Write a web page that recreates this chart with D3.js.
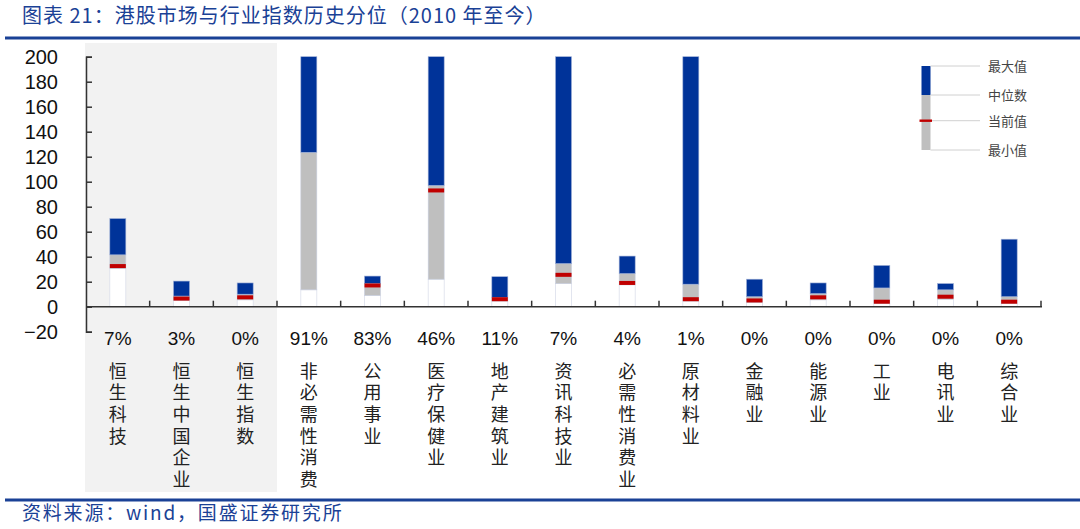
<!DOCTYPE html>
<html>
<head>
<meta charset="utf-8">
<script src="https://cdn.jsdelivr.net/npm/d3@7"></script>
<style>
  html, body { margin: 0; padding: 0; background: #ffffff; }
  svg { display: block; }
  .vlabel { writing-mode: vertical-rl; text-orientation: upright; }
</style>
</head>
<body>
<svg id="chart" width="1080" height="529"></svg>
<script>
// ---------------- data ----------------
const categories = ["恒生科技", "恒生中国企业", "恒生指数", "非必需性消费", "公用事业", "医疗保健业", "地产建筑业",
  "资讯科技业", "必需性消费业", "原材料业", "金融业", "能源业", "工业", "电讯业", "综合业"];
const minValues     = [30.5, 5.0, 5.5, 13.5, 9.0, 22.0, 4.5, 18.5, 17.5, 4.5, 3.5, 5.5, 2.5, 6.0, 2.5];
const medianValues  = [41.5, 8.5, 10.0, 123.5, 18.5, 97.0, 7.5, 34.5, 26.5, 18.0, 8.0, 10.5, 15.0, 13.5, 8.0];
const maxValues     = [70.5, 20.5, 19.0, 200, 24.5, 200, 24.0, 200, 40.5, 200, 22.0, 19.0, 33.0, 18.5, 54.0];
const currentValues = [32.5, 6.5, 7.5, null, 17.0, 93.0, 6.0, 25.5, 19.0, 6.0, 5.0, 7.5, 4.0, 8.0, 4.0];
const percentiles   = ["7%", "3%", "0%", "91%", "83%", "46%", "11%", "7%", "4%", "1%", "0%", "0%", "0%", "0%", "0%"];
const yTicks = [-20, 0, 20, 40, 60, 80, 100, 120, 140, 160, 180, 200];
const highlighted = ["恒生科技", "恒生中国企业", "恒生指数"];
const legendItems = ["最大值", "中位数", "当前值", "最小值"];
const titleText = "图表 21：港股市场与行业指数历史分位（2010 年至今）";
const sourceText = "资料来源：wind，国盛证券研究所";

// ---------------- layout ----------------
const svg = d3.select("#chart");
const W = 1080;
const plotLeft = 86, plotRight = 1041;
const blue = "#003399", gray = "#bfbfbf", red = "#c00000", titleBlue = "#1a4196";
const numFont = "'Liberation Sans', Arial, sans-serif";
const cjkFont = "'Noto Sans CJK SC', 'Noto Sans', sans-serif";

const x = d3.scaleBand().domain(categories).range([plotLeft, plotRight]).padding(0);
const y = d3.scaleLinear().domain([-20, 200]).range([331.7, 56.7]);
const bw = 16;

// title
svg.append("text").attr("x", 22).attr("y", 23)
  .attr("font-family", cjkFont).attr("font-size", 20).attr("letter-spacing", 1.0).attr("fill", titleBlue)
  .text(titleText);
svg.append("rect").attr("x", 5).attr("y", 36.5).attr("width", W - 5).attr("height", 3).attr("fill", titleBlue);

// highlight background
const hx0 = x(highlighted[0]) - 1;
const hx1 = x(highlighted[highlighted.length - 1]) + x.bandwidth();
svg.append("rect").attr("x", hx0).attr("y", 43).attr("width", hx1 - hx0).attr("height", 449)
  .attr("fill", "#f2f2f2");

// bars
const data = categories.map((c, i) => ({
  c, min: minValues[i], med: medianValues[i], max: maxValues[i], cur: currentValues[i]
}));
const g = svg.append("g");
const cx = d => x(d.c) + x.bandwidth() / 2 - bw / 2;

// invisible base (0 -> min)
g.selectAll(".base").data(data).join("rect")
  .attr("x", cx).attr("width", bw)
  .attr("y", d => y(d.min)).attr("height", d => y(0) - y(d.min))
  .attr("fill", "#ffffff").attr("stroke", "#d6dbe8").attr("stroke-width", 0.7);
// min -> median
g.selectAll(".low").data(data).join("rect")
  .attr("x", cx).attr("width", bw)
  .attr("y", d => y(d.med)).attr("height", d => y(d.min) - y(d.med))
  .attr("fill", gray).attr("stroke", "#c9cfe0").attr("stroke-width", 0.6);
// median -> max
g.selectAll(".high").data(data).join("rect")
  .attr("x", cx).attr("width", bw)
  .attr("y", d => y(d.max)).attr("height", d => y(d.med) - y(d.max))
  .attr("fill", blue).attr("stroke", "#9fb0d6").attr("stroke-width", 0.6);
// current marker
g.selectAll(".cur").data(data.filter(d => d.cur !== null)).join("rect")
  .attr("x", cx).attr("width", bw)
  .attr("y", d => y(d.cur) - 2).attr("height", 4)
  .attr("fill", red);

// y axis
const yAxis = d3.axisLeft(y).tickValues(yTicks).tickSize(-6).tickPadding(28).tickFormat(d3.format("d"));
const ya = svg.append("g").attr("transform", `translate(${plotLeft},0)`).call(yAxis);
ya.select(".domain").attr("stroke", "#333").attr("stroke-width", 1.5);
ya.selectAll(".tick line").attr("stroke", "#333").attr("stroke-width", 1.5);
ya.selectAll(".tick text").attr("font-family", numFont).attr("font-size", 20).attr("fill", "#111");

// x axis at zero
svg.append("line").attr("x1", plotLeft).attr("x2", plotRight + 1)
  .attr("y1", y(0)).attr("y2", y(0)).attr("stroke", "#333").attr("stroke-width", 1.5);
svg.selectAll(".xtick").data(categories).join("line")
  .attr("x1", d => x(d) + x.bandwidth()).attr("x2", d => x(d) + x.bandwidth())
  .attr("y1", y(0)).attr("y2", y(0) - 6).attr("stroke", "#333").attr("stroke-width", 1.5);

// percentile labels
svg.selectAll(".pct").data(categories).join("text")
  .attr("x", d => x(d) + x.bandwidth() / 2).attr("y", 345)
  .attr("text-anchor", "middle").attr("font-family", numFont).attr("font-size", 19).attr("fill", "#111")
  .text((d, i) => percentiles[i]);

// category labels (vertical text, one element per category)
svg.selectAll(".cat").data(categories).join("text")
  .attr("class", "vlabel")
  .attr("x", d => x(d) + x.bandwidth() / 2).attr("y", 362)
  .attr("font-family", cjkFont).attr("font-size", 18).attr("letter-spacing", 3.6).attr("fill", "#222")
  .text(d => d);

// legend
const lg = svg.append("g");
const legY = [66, 95, 120.7, 150];
lg.append("rect").attr("x", 921.5).attr("y", legY[0]).attr("width", 9).attr("height", legY[1] - legY[0]).attr("fill", blue);
lg.append("rect").attr("x", 921.5).attr("y", legY[1]).attr("width", 9).attr("height", legY[3] - legY[1]).attr("fill", gray);
lg.selectAll(".ll").data(legY).join("line")
  .attr("x1", 930.5).attr("x2", 980).attr("y1", d => d).attr("y2", d => d)
  .attr("stroke", "#d0d0d0").attr("stroke-width", 1);
lg.append("rect").attr("x", 919.5).attr("y", legY[2] - 1.2).attr("width", 12.5).attr("height", 2.4).attr("fill", red);
lg.selectAll(".lt").data(legendItems).join("text")
  .attr("x", 988).attr("y", (d, i) => legY[i] + 5)
  .attr("font-family", cjkFont).attr("font-size", 13).attr("fill", "#444")
  .text(d => d);

// footer
svg.append("rect").attr("x", 5).attr("y", 498.5).attr("width", W - 5).attr("height", 3).attr("fill", titleBlue);
svg.append("text").attr("x", 22).attr("y", 520)
  .attr("font-family", cjkFont).attr("font-size", 19).attr("letter-spacing", 1.8).attr("fill", titleBlue)
  .text(sourceText);
</script>
</body>
</html>
